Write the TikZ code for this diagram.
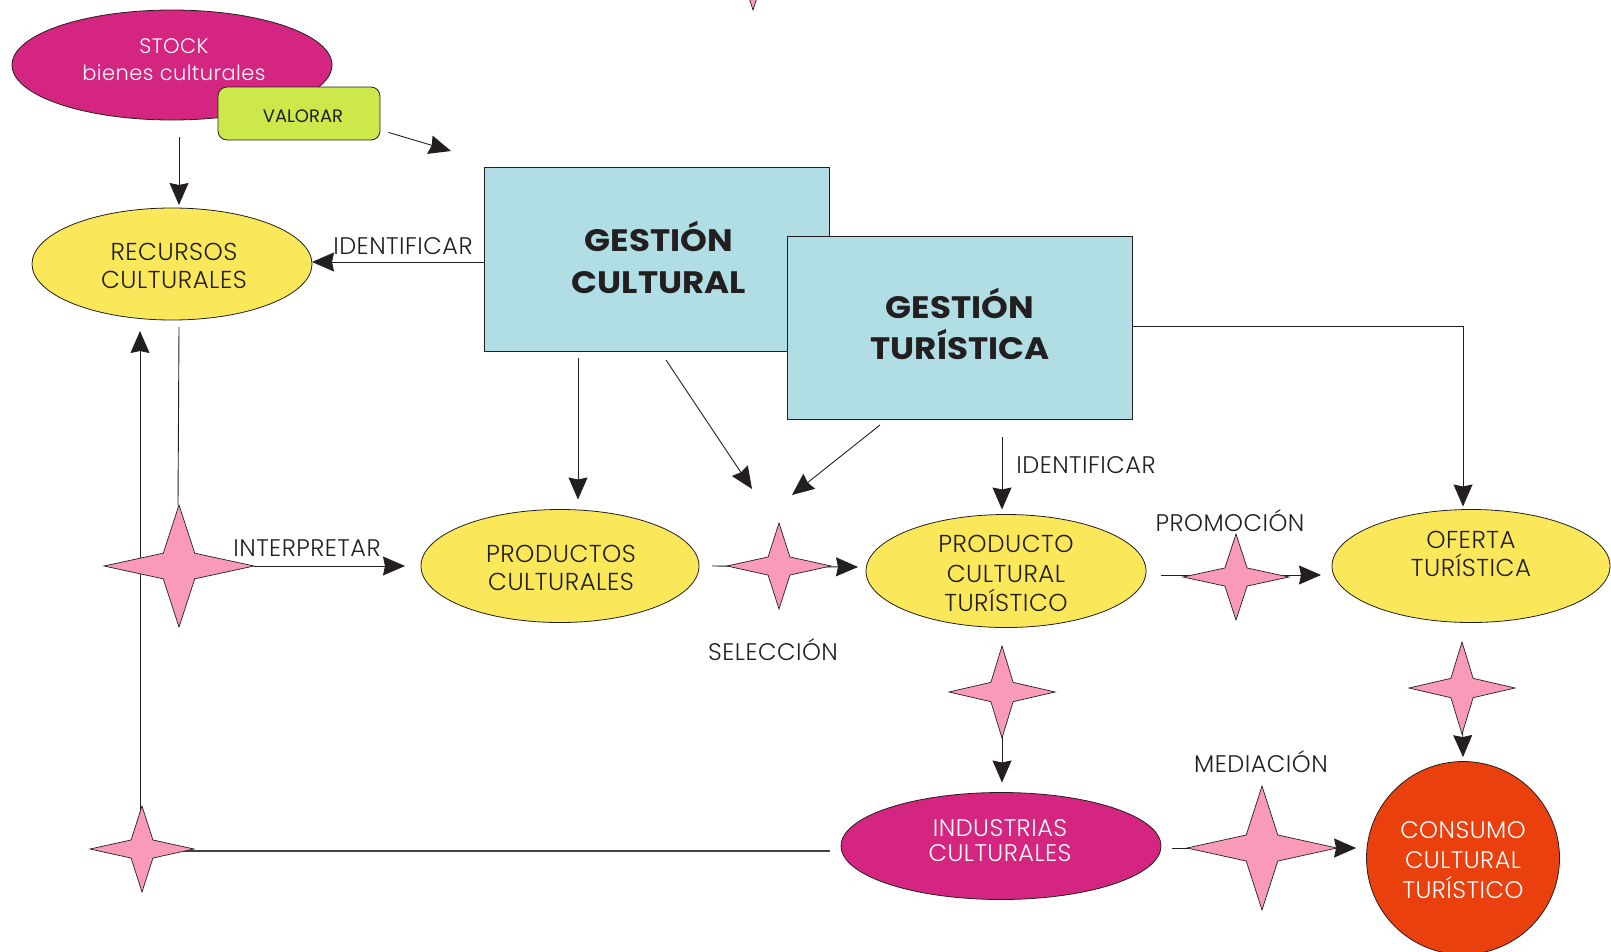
\documentclass[tikz,border=0pt]{standalone}
\usepackage{fontspec}
\setmainfont{Poppins}
\IfFontExistsTF{Poppins Light}
  {\newfontfamily\lblfont{Poppins Light}[LetterSpace=2]}
  {\newfontfamily\lblfont{Poppins}[LetterSpace=2]}
\newfontfamily\hdrfont{Poppins}[FakeStretch=1.1]
\usetikzlibrary{shapes.geometric,arrows.meta,calc}

\definecolor{ink}{HTML}{231F20}
\definecolor{magentaF}{HTML}{D42680}
\definecolor{yellowF}{HTML}{FAE85A}
\definecolor{blueF}{HTML}{B0DEE4}
\definecolor{limeF}{HTML}{CDE84A}
\definecolor{pinkF}{HTML}{F99BB8}
\definecolor{orangeF}{HTML}{E9400E}

\tikzset{
  ln/.style={draw=ink, line width=0.9pt},
  arr/.style={ln, -{Stealth[length=22pt,width=19pt,inset=2pt]}},
  ell/.style={ellipse, draw=ink, line width=0.8pt, inner sep=0pt, outer sep=0pt},
  box/.style={rectangle, draw=ink, line width=0.9pt, fill=blueF, inner sep=0pt, outer sep=0pt},
  lbl/.style={font=\lblfont\fontsize{24}{28}\selectfont, text=ink, inner sep=0pt, anchor=base},
  etxt/.style={font=\lblfont\fontsize{24.5}{28}\selectfont, align=center, text=ink, inner sep=0pt},
  wtxt/.style={etxt, text=white},
  btxt/.style={font=\hdrfont\bfseries\fontsize{31}{42}\selectfont, align=center, text=ink, inner sep=0pt},
  pics/sparkle/.style 2 args={code={
    \filldraw[fill=pinkF, draw=ink, line width=0.7pt]
      (-#1,0) -- (-0.21*#1,-0.21*#2) -- (0,-#2) -- (0.21*#1,-0.21*#2) --
      (#1,0) -- (0.21*#1,0.21*#2) -- (0,#2) -- (-0.21*#1,0.21*#2) -- cycle;
  }}
}

\begin{document}
\begin{tikzpicture}[x=1pt,y=-1pt]
\useasboundingbox (0,0) rectangle (1611,951);
\clip (0,0) rectangle (1611,951);

% ---------- main shapes ----------
\node[ell, fill=magentaF, minimum width=320pt, minimum height=110pt] (stock) at (172,65) {};
\node[wtxt, font=\lblfont\fontsize{21}{27}\selectfont] (stock-t) at (174,60) {STOCK\\bienes culturales};
\node[draw=ink, line width=0.8pt, fill=limeF, rounded corners=9pt, minimum width=162pt,
      minimum height=53pt, inner sep=0pt] (val) at (299,113.5) {};
\node[etxt, font=\rmfamily\fontsize{18}{22}\selectfont] (val-t) at (303,116) {VALORAR};

\node[ell, fill=yellowF, minimum width=280pt, minimum height=112pt] (rec) at (172,264) {};
\node[etxt] (rec-t) at (174,266) {RECURSOS\\CULTURALES};

\node[box, minimum width=345pt, minimum height=184pt] (gc) at (656.5,259) {};
\node[btxt] (gc-t) at (659,257.5) {GESTIÓN\\CULTURAL};
\node[box, minimum width=345pt, minimum height=183pt] (gt) at (959.5,327.5) {};
\node[btxt, font=\hdrfont\bfseries\fontsize{31}{41}\selectfont] (gt-t) at (960,323.5) {GESTIÓN\\TURÍSTICA};

\node[ell, fill=yellowF, minimum width=278pt, minimum height=113pt] (prods) at (560,566) {};
\node[etxt] (prods-t) at (561,568) {PRODUCTOS\\CULTURALES};

\node[ell, fill=yellowF, minimum width=280pt, minimum height=113pt] (pct) at (1006,571) {};
\node[etxt, font=\lblfont\fontsize{24.5}{29.5}\selectfont] (pct-t) at (1006,573.5) {PRODUCTO\\CULTURAL\\TURÍSTICO};

\node[ell, fill=yellowF, minimum width=278pt, minimum height=113pt] (ofe) at (1471,566) {};
\node[etxt] (ofe-t) at (1471,554) {OFERTA\\TURÍSTICA};

\node[ell, fill=magentaF, minimum width=320pt, minimum height=107pt] (ind) at (1001,846) {};
\node[wtxt, font=\lblfont\fontsize{24}{25}\selectfont] (ind-t) at (1000,840.5) {INDUSTRIAS\\CULTURALES};

\node[circle, draw=ink, line width=0.8pt, fill=orangeF, minimum size=193pt, inner sep=0pt] (cons) at (1463,858) {};
\node[wtxt, font=\lblfont\fontsize{24}{30}\selectfont] (cons-t) at (1463,860) {CONSUMO\\CULTURAL\\TURÍSTICO};

% ---------- star centres ----------
\coordinate (s-int) at (179,566);
\coordinate (s-sel) at (779,566);
\coordinate (s-pro) at (1236,577);
\coordinate (s-ind) at (1002,692);
\coordinate (s-con) at (1462,688);
\coordinate (s-med) at (1262,848);
\coordinate (s-bl)  at (142,849);
\coordinate (s-top) at (753,-33);

% ---------- connectors ----------
\draw[arr] ($(val.south east)+(8,-8)$) -- ($(gc.north west)+(-33,-16)$);
\draw[arr] ($(stock.south)+(7,17)$) -- ($(rec.north)+(7,-3)$);
\draw[arr] ($(gc.west)+(0,3)$) -- ($(rec.east)+(0,-2)$);
\draw[ln] ($(rec.south)+(7,7)$) -- ($(s-int)+(-1,-61)$);
\draw[arr] ($(s-int)+(75,0)$) -- ($(prods.west)+(-16,0)$);
\draw[arr] ($(gc.south)+(-78.5,7)$) -- ($(prods.north)+(18,-10)$);
\draw[arr] ($(gc.south)+(9.5,9)$) -- ($(s-sel)+(-27,-77)$);
\draw[arr] ($(gt.south)+(-79.5,6)$) -- ($(s-sel)+(13,-71)$);
\draw[arr] ($(prods.east)+(13,0)$) -- ($(pct.west)+(-8,-4)$);
\draw[arr] ($(gt.south)+(42.5,18)$) -- ($(pct.north)+(-4,-5)$);
\draw[arr] ($(gt.east)+(0,-1.5)$) -| ($(ofe.north)+(-8,-3)$);
\draw[arr] ($(pct.east)+(15,4)$) -- ($(ofe.west)+(-11,9)$);
\draw[arr] (s-ind) -- ($(ind.north)+(1,-10)$);
\draw[arr] (s-con) -- ($(cons.north)+(0,-4)$);
\draw[arr] ($(ind.east)+(11,2)$) -- ($(cons.west)+(-10,-10)$);
\draw[ln, line width=1.4pt, draw=ink!85] ($(ind.west)+(-11,5)$) -- ($(s-bl)+(0,2)$);
\draw[arr] ($(s-bl)+(-2,0)$) -- ($(rec.south)+(-32,11)$);

% ---------- stars ----------
\pic (st-int) at (s-int) {sparkle={75}{61}};
\pic (st-sel) at (s-sel) {sparkle={52}{43}};
\pic (st-pro) at (s-pro) {sparkle={53}{43}};
\pic (st-ind) at (s-ind) {sparkle={53}{46}};
\pic (st-con) at (s-con) {sparkle={53}{46}};
\pic (st-med) at (s-med) {sparkle={75}{62}};
\pic (st-bl)  at (s-bl)  {sparkle={52}{43}};
\pic (st-top) at (s-top) {sparkle={52}{43}};

% ---------- labels ----------
\node[lbl] (l-id1) at (403,254.5) {IDENTIFICAR};
\node[lbl] (l-int) at (307,556.5) {INTERPRETAR};
\node[lbl] (l-sel) at (773,660.5) {SELECCIÓN};
\node[lbl] (l-id2) at (1086,473.5) {IDENTIFICAR};
\node[lbl] (l-pro) at (1230,531.5) {PROMOCIÓN};
\node[lbl] (l-med) at (1261,772.5) {MEDIACIÓN};
\end{tikzpicture}
\end{document}
